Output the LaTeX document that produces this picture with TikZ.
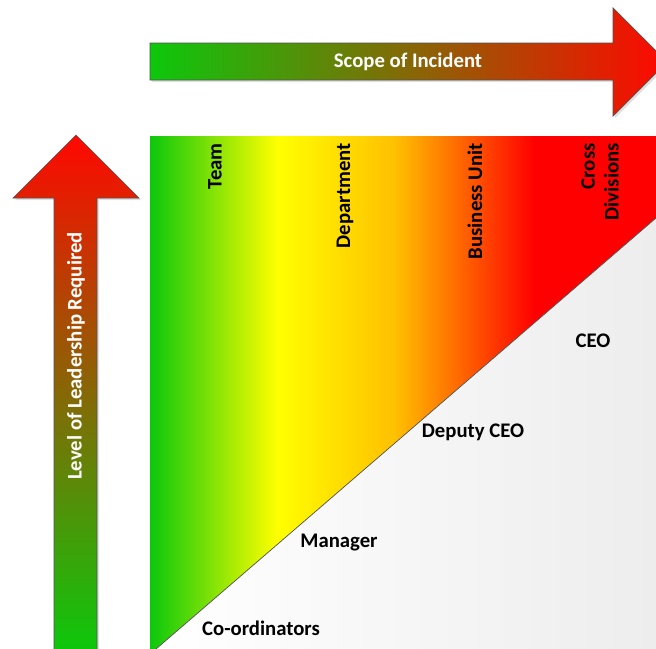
\documentclass[tikz,border=0pt]{standalone}
\usepackage{fontspec}
\setmainfont{Carlito}
\usetikzlibrary{positioning, shadows}
\definecolor{lowgreen}{HTML}{0CC80C}
\definecolor{midbrown}{HTML}{8A6200}
\definecolor{topred}{HTML}{FF0800}
\definecolor{hotyellow}{HTML}{FFFF00}
\definecolor{amber}{HTML}{FFC000}
\definecolor{flatred}{HTML}{FF0000}
\definecolor{paleedge}{HTML}{EDEDED}
\definecolor{outline}{HTML}{505050}
\pgfdeclarehorizontalshading{scopeband}{100bp}{color(0bp)=(lowgreen); color(25bp)=(lowgreen);
  color(37.6bp)=(hotyellow); color(49.2bp)=(amber); color(63bp)=(flatred); color(100bp)=(flatred)}

\begin{document}
\begin{tikzpicture}[
  x=0.02cm, y=-0.02cm,
  arrowbody/.style={draw=outline, line width=0.4pt,
                    drop shadow={shadow xshift=1.2pt, shadow yshift=-1.2pt, opacity=0.25}},
  axislabel/.style={font=\fontsize{11.8}{13}\selectfont\bfseries, text=white, inner sep=0pt},
  scopelabel/.style={font=\fontsize{11.8}{13.6}\selectfont\bfseries, rotate=90,
                     anchor=east, align=right, inner sep=0pt},
  rolelabel/.style={font=\fontsize{11.8}{13}\selectfont\bfseries, inner sep=0pt},
]
  \useasboundingbox (0,0) rectangle (656,649);

  % Scope arrow --- left to right
  \shade[arrowbody, left color=lowgreen, middle color=midbrown, right color=topred]
    (150,43) -- (613,43) -- (613,8) -- (667,62) -- (613,116) -- (613,80) -- (150,80) -- cycle;
  \node[axislabel] (scope) at (408,62) {Scope of Incident};

  % Leadership arrow --- bottom to top
  \shade[arrowbody, bottom color=lowgreen, middle color=midbrown, top color=topred]
    (54,652) -- (54,198) -- (13,198) -- (76,135) -- (139,198) -- (97,198) -- (97,652) -- cycle;
  \node[axislabel, rotate=90] (leadership) at (76,356) {Level of Leadership Required};

  % Colour band
  \shade[shading=scopeband] (150,136) rectangle (656,649);

  % Lower triangle
  \coordinate (diagstart) at (156,649);
  \coordinate (diagend) at (656,218);
  \shade[left color=white, right color=paleedge]
    (diagstart) -- (diagend) -- (656,649) -- cycle;
  \draw[outline, line width=0.4pt] (diagstart) -- (diagend);

  % Scope labels
  \node[scopelabel] (team) at (215,143) {Team};
  \node[scopelabel] (dept) at (345,143) {Department};
  \node[scopelabel] (unit) at (475,143) {Business Unit};
  \node[scopelabel] (cross) at (600,143) {Cross\\Divisions};

  % Roles
  \node[rolelabel] (ceo) at (593,341) {CEO};
  \node[rolelabel] (deputy) at (473,432) {Deputy CEO};
  \node[rolelabel] (manager) at (339,543) {Manager};
  \node[rolelabel] (coord) at (261,628) {Co-ordinators};
\end{tikzpicture}
\end{document}
